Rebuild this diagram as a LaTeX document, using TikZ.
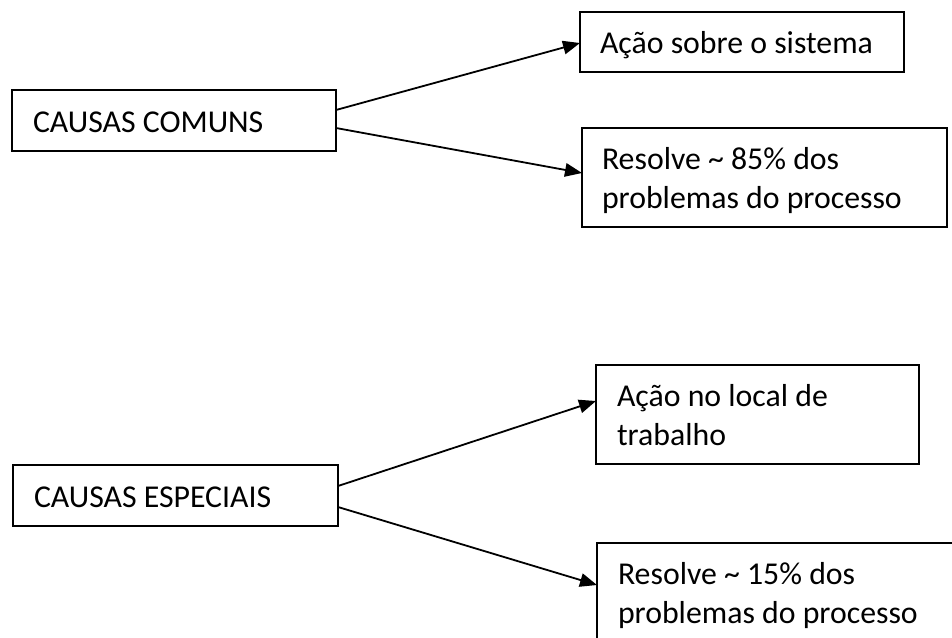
\documentclass[tikz,border=0pt]{standalone}
\usepackage{fontspec}
\setmainfont{Carlito}
\usetikzlibrary{arrows.meta}
\tikzset{
  box/.style={draw=black, line width=2pt, rectangle, inner sep=0pt, outer sep=0pt, anchor=north west},
  lbl/.style={anchor=base west, inner sep=0pt, outer sep=0pt, font=\fontsize{31.8pt}{39pt}\selectfont},
  conn/.style={line width=1.8pt, -{Triangle[length=17pt, width=13.5pt]}}
}
\newcommand{\twolines}[2]{\vtop{\hbox{#1}\hbox{#2}}}
\begin{document}
\begin{tikzpicture}[x=1pt, y=-1pt]
\clip (0,0) rectangle (952,637);
\fill[white] (0,0) rectangle (952,637);
% boxes
\node[box, minimum width=324pt, minimum height=61pt] (b1) at (12,90) {};
\node[box, minimum width=324pt, minimum height=60pt] (b2) at (580,12) {};
\node[box, minimum width=365pt, minimum height=99pt] (b3) at (582,128) {};
\node[box, minimum width=323pt, minimum height=99pt] (b4) at (596,365) {};
\node[box, minimum width=325pt, minimum height=61pt] (b5) at (13,465) {};
\node[box, minimum width=365pt, minimum height=99pt] (b6) at (597,543) {};
% texts
\node[lbl] (t1) at ([xshift=21pt, yshift=-42pt]b1.north west) {CAUSAS COMUNS};
\node[lbl] (t2) at ([xshift=20pt, yshift=-41pt]b2.north west) {Ação sobre o sistema};
\node[lbl] (t3) at ([xshift=20pt, yshift=-41pt]b3.north west) {\twolines{Resolve \textasciitilde{} 85\% dos}{problemas do processo}};
\node[lbl] (t4) at ([xshift=21pt, yshift=-41pt]b4.north west) {\twolines{Ação no local de}{trabalho}};
\node[lbl] (t5) at ([xshift=21pt, yshift=-42pt]b5.north west) {CAUSAS ESPECIAIS};
\node[lbl] (t6) at ([xshift=21pt, yshift=-41pt]b6.north west) {\twolines{Resolve \textasciitilde{} 15\% dos}{problemas do processo}};
% connectors
\draw[conn] ([yshift=10.5pt]b1.east) -- ([yshift=-1pt]b2.west);
\draw[conn] ([yshift=-7.5pt]b1.east) -- ([yshift=4.5pt]b3.west);
\draw[conn] ([yshift=9.5pt]b5.east) -- ([yshift=13.5pt]b4.west);
\draw[conn] ([yshift=-11.5pt]b5.east) -- ([yshift=7.5pt]b6.west);
\end{tikzpicture}
\end{document}
